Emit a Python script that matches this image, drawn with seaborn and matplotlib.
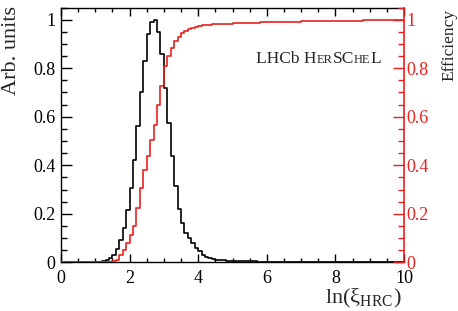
import numpy as np
import pandas as pd
import matplotlib
matplotlib.use('Agg')
import matplotlib.pyplot as plt
from matplotlib.ticker import MultipleLocator, FuncFormatter
import seaborn as sns

# ln(xi_HRC) binning: 100 bins of 0.1 from 0 to 10
bin_lo, bin_hi, bin_w = 0.0, 10.0, 0.1

# normalised distribution (Arb. units), one value per bin
arb_units = [
    0, 0, 0, 0, 0, 0, 0, 0, 0, 0,
    0.001, 0.002, 0.004, 0.008, 0.016, 0.030, 0.054, 0.090, 0.140, 0.216,
    0.308, 0.420, 0.560, 0.700, 0.830, 0.940, 0.990, 1.000, 0.950, 0.860,
    0.720, 0.574, 0.436, 0.313, 0.220, 0.160, 0.122, 0.099, 0.078, 0.060,
    0.045, 0.031, 0.022, 0.016, 0.013, 0.011, 0.009, 0.008, 0.007, 0.006,
    0.005, 0.005, 0.005, 0.004, 0.004, 0.004, 0.004, 0.003, 0.003, 0.003,
    0.003, 0.003, 0.003, 0.002, 0.002, 0.002, 0.002, 0.002, 0.002, 0.002,
    0.002, 0.002, 0.001, 0.001, 0.001, 0.001, 0.001, 0.001, 0.001, 0.001,
    0.001, 0.001, 0.001, 0.001, 0.001, 0.001, 0.001, 0.001, 0.001, 0.001,
    0.001, 0.001, 0.001, 0.001, 0.001, 0.001, 0.001, 0.001, 0.001, 0.001,
]

# cumulative efficiency, one value per bin
efficiency = [
    0, 0, 0, 0, 0, 0, 0, 0, 0, 0,
    0, 0, 0, 0.001, 0.002, 0.005, 0.010, 0.030, 0.050, 0.078,
    0.113, 0.150, 0.223, 0.305, 0.380, 0.436, 0.505, 0.567, 0.650, 0.725,
    0.810, 0.850, 0.883, 0.910, 0.927, 0.945, 0.955, 0.962, 0.967, 0.971,
    0.974, 0.976, 0.978, 0.979, 0.980, 0.981, 0.982, 0.983, 0.984, 0.984,
    0.985, 0.986, 0.986, 0.987, 0.987, 0.988, 0.988, 0.988, 0.989, 0.989,
    0.989, 0.990, 0.990, 0.990, 0.991, 0.991, 0.991, 0.992, 0.992, 0.992,
    0.993, 0.993, 0.993, 0.993, 0.994, 0.994, 0.994, 0.994, 0.995, 0.995,
    0.995, 0.995, 0.995, 0.996, 0.996, 0.996, 0.996, 0.996, 0.997, 0.997,
    0.997, 0.997, 0.997, 0.997, 0.998, 0.998, 0.998, 0.998, 0.998, 0.998,
]

n_bins = len(arb_units)
centers = bin_lo + bin_w * (np.arange(n_bins) + 0.5)
df = pd.DataFrame({'ln_xi': centers, 'arb': arb_units, 'eff': efficiency})

RED = '#e8201f'
SERIF = 'Liberation Serif'

sns.set_theme(style='ticks')
plt.rcParams['font.family'] = SERIF
plt.rcParams['font.serif'] = [SERIF]
plt.rcParams['mathtext.fontset'] = 'stix'

fig = plt.figure(figsize=(4.58, 3.11), dpi=100)
W, H = 458, 311
ax = fig.add_axes([61 / W, 1 - 262.3 / H, (404 - 61) / W, (262.3 - 7.5) / H])
ax2 = ax.twinx()

sns.histplot(data=df, x='ln_xi', weights='arb', binwidth=bin_w, binrange=(bin_lo, bin_hi),
             element='step', fill=False, color='black', linewidth=1.2, ax=ax)
sns.histplot(data=df, x='ln_xi', weights='eff', binwidth=bin_w, binrange=(bin_lo, bin_hi),
             element='step', fill=False, color=RED, linewidth=1.2, ax=ax2)

for a in (ax, ax2):
    a.set_xlim(0, 10)
    a.set_ylim(0, 1.05)
    a.set_xlabel('')
    a.set_ylabel('')

fmt = FuncFormatter(lambda v, p: '%g' % v)
ax.xaxis.set_major_locator(MultipleLocator(2))
ax.xaxis.set_minor_locator(MultipleLocator(0.5))
ax.yaxis.set_major_locator(MultipleLocator(0.2))
ax.yaxis.set_minor_locator(MultipleLocator(0.05))
ax2.yaxis.set_major_locator(MultipleLocator(0.2))
ax2.yaxis.set_minor_locator(MultipleLocator(0.05))
ax.xaxis.set_major_formatter(fmt)
ax.yaxis.set_major_formatter(fmt)
ax2.yaxis.set_major_formatter(fmt)

ax.tick_params(which='both', direction='in', top=True, right=False, width=1,
               colors='black', labelsize=13, labelfontfamily=SERIF)
ax.tick_params(axis='x', which='major', length=5.5, pad=5.5)
ax.tick_params(axis='x', which='minor', length=2.6)
ax.tick_params(axis='y', which='major', length=8, pad=4)
ax.tick_params(axis='y', which='minor', length=4.3)
ax2.tick_params(which='both', direction='in', right=True, width=1,
                colors=RED, labelsize=13, pad=2, labelfontfamily=SERIF)
ax2.tick_params(which='major', length=8)
ax2.tick_params(which='minor', length=4.3)
ax2.tick_params(axis='x', which='both', bottom=False, top=False, labelbottom=False)

for s in ax.spines.values():
    s.set_color('black')
    s.set_linewidth(1)
ax.spines['right'].set_visible(False)
for name, s in ax2.spines.items():
    s.set_visible(name == 'right')
ax2.spines['right'].set_color(RED)
ax2.spines['right'].set_linewidth(1.2)

# axis titles, ROOT style
fig.text(12 / W, 1 - 6 / H, 'Arb. units', rotation=90, ha='center', va='top',
         fontsize=16, family=SERIF)
fig.text(449 / W, 1 - 9 / H, 'Efficiency', rotation=90, ha='center', va='top',
         fontsize=12.5, family=SERIF)
fig.text(402 / W, 1 - 303.5 / H, r'ln(ξ$_{\mathregular{HRC}}$)', ha='right',
         va='baseline', fontsize=16, family=SERIF)

# "LHCb HeRSChEL" with small capitals
pieces = [('LHCb H', 12.5), ('ER', 9), ('SC', 12.5), ('HE', 9), ('L', 12.5)]
fig.canvas.draw()
renderer = fig.canvas.get_renderer()
x_pix, base_pix = 256.0, H - 62.7
for s, size in pieces:
    t = fig.text(x_pix, base_pix, s, fontsize=size, ha='left', va='baseline',
                 transform=None, family=SERIF)
    x_pix += t.get_window_extent(renderer).width

fig.savefig('out.png', dpi=100)
